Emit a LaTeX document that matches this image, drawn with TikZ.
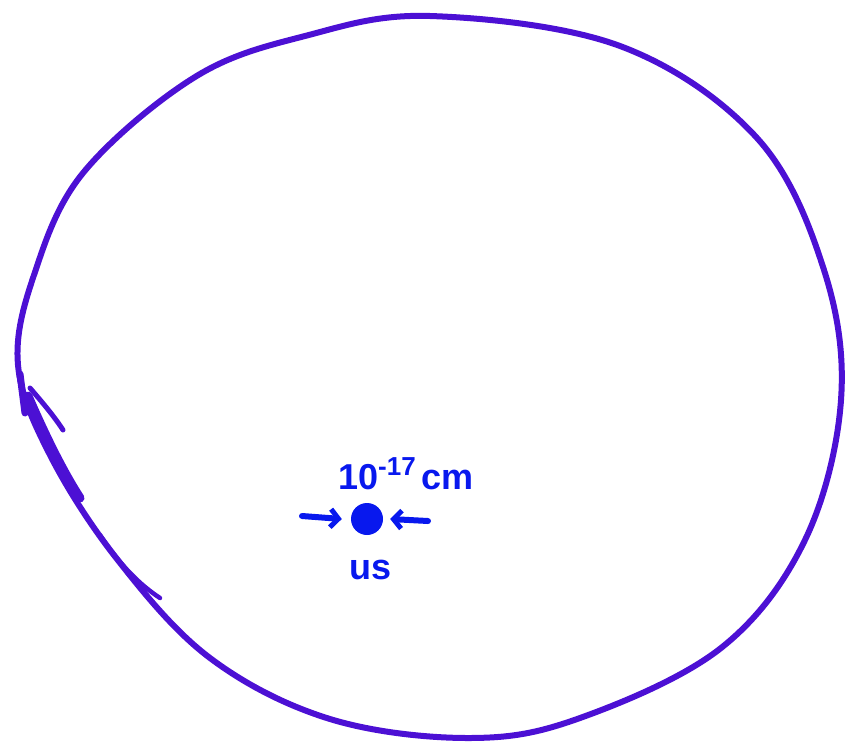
\documentclass[tikz,border=0pt]{standalone}
\usepackage{fontspec}
\setmainfont{Liberation Sans}
\usetikzlibrary{arrows.meta}
\definecolor{ring}{RGB}{76,16,212}
\definecolor{ink}{RGB}{8,24,238}
\tikzset{
  ringline/.style={draw=ring, line width=6pt, line cap=round, line join=round},
  inkarrow/.style={draw=ink, line width=6pt, line cap=round, -{Straight Barb[length=8pt,width=18pt,line width=5pt]}},
  hand/.style={text=ink, font=\bfseries\fontsize{36}{40}\selectfont, inner sep=0pt}
}
\begin{document}
\begin{tikzpicture}[x=1pt,y=-1pt]
\useasboundingbox (0,0) rectangle (846,745);
% the big hand-drawn circle
\draw[ringline] plot[smooth cycle, tension=0.6] coordinates {
 (430,16) (620,46) (757,138) (824,270) (841,400) (805,540) (721,648)
 (580,718) (470,738) (330,719) (210,658) (117,559) (50,455) (18,365)
 (34,275) (83,173) (195,77) (305,36)};
% scribbles on the left edge
\draw[ringline, line width=7pt] (20,374) -- (25,413);
\draw[ringline, line width=5pt] (30,388) .. controls (42,402) and (54,416) .. (63,430);
\draw[ringline, line width=9pt] (28,396) .. controls (45,435) and (62,470) .. (80,498);
\draw[ringline, line width=4.5pt] (100,535) .. controls (120,565) and (140,585) .. (160,598);
% the dot
\node[circle, fill=ink, minimum size=32pt, inner sep=0pt] (us) at (367,519) {};
\coordinate (la) at (302,516);
\coordinate (ra) at (428,521);
\draw[inkarrow] (la) -- ([xshift=-9pt]us.west);
\draw[inkarrow] (ra) -- ([xshift=7pt]us.east);
\node[hand, anchor=base west] (ten) at (338,489) {10\raisebox{14pt}{\fontsize{26}{30}\selectfont -17}\,cm};
\node[hand, anchor=base] (uslabel) at (371,579) {us};
\end{tikzpicture}
\end{document}
